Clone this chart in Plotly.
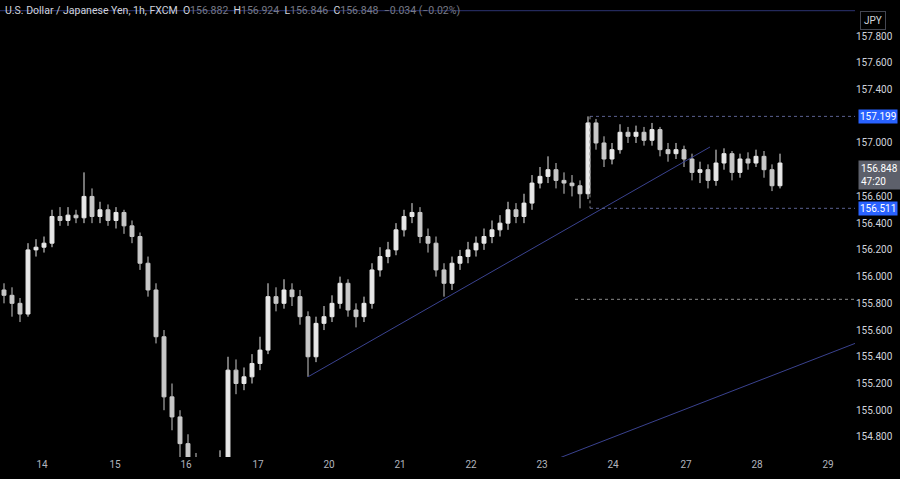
import plotly.graph_objects as go

# candle x positions (chart units), 98 candles
xs = [4 + 8 * i for i in range(98)]
close = [155.86,155.80,155.72,156.20,156.22,156.25,156.45,156.42,156.46,156.44,
         156.60,156.45,156.50,156.42,156.48,156.38,156.30,156.10,155.90,155.55,
         155.10,154.95,154.75,154.60,154.50,154.45,154.50,154.60,155.30,155.20,
         155.25,155.35,155.45,155.85,155.80,155.90,155.85,155.70,155.40,155.65,
         155.70,155.80,155.95,155.75,155.70,155.80,156.05,156.15,156.20,156.35,
         156.45,156.48,156.30,156.25,156.05,155.95,156.10,156.15,156.20,156.25,
         156.30,156.35,156.40,156.50,156.45,156.55,156.70,156.75,156.80,156.72,
         156.70,156.68,156.62,157.15,157.00,156.88,156.95,157.08,157.05,157.08,
         157.02,157.10,156.95,156.92,156.95,156.88,156.78,156.80,156.72,156.85,
         156.92,156.78,156.88,156.85,156.90,156.80,156.68,156.85]
high = [155.95,155.92,155.84,156.25,156.28,156.30,156.50,156.52,156.52,156.50,
        156.78,156.66,156.56,156.54,156.52,156.50,156.42,156.33,156.15,155.95,
        155.60,155.20,155.00,154.82,154.68,154.58,154.60,154.70,155.40,155.38,
        155.32,155.42,155.55,155.95,155.92,155.98,155.95,155.90,155.74,155.70,
        155.78,155.86,156.00,155.98,155.80,155.85,156.10,156.22,156.26,156.40,
        156.50,156.55,156.52,156.36,156.30,156.10,156.15,156.20,156.26,156.30,
        156.36,156.42,156.46,156.56,156.55,156.62,156.76,156.82,156.90,156.85,
        156.78,156.76,156.72,157.199,157.18,157.05,157.00,157.14,157.12,157.13,
        157.12,157.15,157.12,157.00,157.00,156.98,156.92,156.86,156.84,156.95,
        156.96,156.94,156.92,156.93,156.95,156.94,156.84,156.92]
low = [155.80,155.70,155.66,155.70,156.15,156.18,156.22,156.38,156.38,156.40,
       156.40,156.40,156.40,156.38,156.36,156.32,156.25,156.05,155.85,155.50,
       155.00,154.85,154.65,154.50,154.40,154.35,154.38,154.45,154.55,155.12,
       155.15,155.20,155.30,155.42,155.74,155.76,155.78,155.64,155.25,155.36,
       155.60,155.66,155.76,155.70,155.62,155.66,155.76,156.00,156.10,156.16,
       156.30,156.40,156.25,156.18,156.00,155.85,155.90,156.05,156.10,156.15,
       156.20,156.25,156.30,156.35,156.40,156.40,156.50,156.66,156.70,156.66,
       156.62,156.60,156.511,156.58,156.95,156.82,156.84,156.92,157.00,157.00,
       156.98,156.98,156.90,156.86,156.88,156.82,156.72,156.70,156.66,156.68,
       156.80,156.72,156.74,156.80,156.82,156.74,156.64,156.66]
open_ = [155.90] + close[:-1]

day_pos = [42, 115, 186, 258, 329, 400, 471, 542, 613, 686, 757, 828]
day_labels = ["14", "15", "16", "17", "20", "21", "22", "23", "24", "27", "28", "29"]
ytick_vals = [157.8, 157.6, 157.4, 157.0, 156.6, 156.4, 156.2, 156.0, 155.8, 155.6, 155.4, 155.2, 155.0, 154.8]

trend1_x, trend1_y = [308, 710], [155.25, 156.97]
trend2_x, trend2_y = [555, 855], [154.63, 155.50]
top_x, top_y = [0, 855], [157.99, 157.99]
res_x, res_y = [590, 855], [157.199, 157.199]
sup_x, sup_y = [590, 855], [156.511, 156.511]
vert_x, vert_y = [590, 590], [157.199, 156.511]
lvl_x, lvl_y = [575, 855], [155.83, 155.83]

fig = go.Figure()
fig.add_trace(go.Candlestick(x=xs, open=open_, high=high, low=low, close=close,
    increasing=dict(line=dict(color="#e8e8e8", width=1), fillcolor="#e8e8e8"),
    decreasing=dict(line=dict(color="#c8c8c8", width=1), fillcolor="#c8c8c8"),
    whiskerwidth=0, showlegend=False, hoverinfo="skip"))
blue = "#3a428f"
for x, y, c, d in [(trend1_x, trend1_y, blue, "solid"), (trend2_x, trend2_y, blue, "solid"),
                   (top_x, top_y, "#2c3370", "solid"), (res_x, res_y, "#5a6090", "dot"),
                   (sup_x, sup_y, "#5a6090", "dot"), (vert_x, vert_y, "#8a8a8a", "dot"),
                   (lvl_x, lvl_y, "#8a8a8a", "dot")]:
    fig.add_trace(go.Scatter(x=x, y=y, mode="lines", line=dict(color=c, width=1, dash=d),
                             showlegend=False, hoverinfo="skip"))

fig.update_layout(
    width=900, height=479, paper_bgcolor="#000000", plot_bgcolor="#000000",
    margin=dict(l=0, r=45, t=0, b=22),
    font=dict(family="Roboto, sans-serif", color="#b2b5be", size=10),
    xaxis=dict(range=[0, 855], tickvals=day_pos, ticktext=day_labels, showgrid=False,
               zeroline=False, rangeslider=dict(visible=False), showline=False, ticks=""),
    yaxis=dict(range=[154.65, 158.07], side="right", tickvals=ytick_vals,
               ticktext=[f"{v:.3f}" for v in ytick_vals], showgrid=False, zeroline=False,
               ticks="", tickfont=dict(size=10, color="#d1d4dc")),
)
fig.add_annotation(xref="paper", yref="paper", x=0.003, y=0.978, xanchor="left", yanchor="middle",
    text="U.S. Dollar / Japanese Yen, 1h, FXCM  O<span style='color:#787b86'>156.882</span>  H<span style='color:#787b86'>156.924</span>  L<span style='color:#787b86'>156.846</span>  C<span style='color:#787b86'>156.848</span>  <span style='color:#787b86'>−0.034 (−0.02%)</span>",
    showarrow=False, font=dict(size=10.5, color="#d1d4dc"))
for yv, txt, bg in [(157.199, "157.199", "#2962ff"), (156.511, "156.511", "#2962ff")]:
    fig.add_annotation(xref="paper", yref="y", x=1.003, y=yv, xanchor="left", text=txt,
        showarrow=False, bgcolor=bg, font=dict(size=10, color="#ffffff"), borderpad=1)
fig.add_annotation(xref="paper", yref="y", x=1.003, y=156.76, xanchor="left",
    text="156.848<br>47:20", align="left", showarrow=False, bgcolor="#5d606b",
    font=dict(size=10, color="#ffffff"), borderpad=2)
fig.add_annotation(xref="paper", yref="paper", x=1.006, y=0.975, xanchor="left",
    text="JPY", showarrow=False, bordercolor="#434651", borderwidth=1, borderpad=3,
    font=dict(size=10, color="#d1d4dc"))
fig.write_html("out.html", config={"displayModeBar": False})
with open("out.html", encoding="utf-8") as f:
    html = f.read()
html = html.replace("<body>", "<body style=\"margin:0;background:#000\">", 1)
with open("out.html", "w", encoding="utf-8") as f:
    f.write(html)
